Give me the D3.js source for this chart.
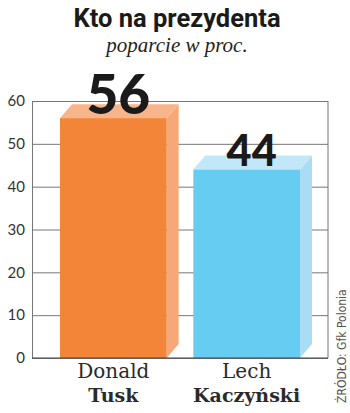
<!DOCTYPE html>
<html>
<head>
<meta charset="utf-8">
<script src="https://cdn.jsdelivr.net/npm/d3@7"></script>
<style>
  body { margin: 0; background: #fff; }
  svg { display: block; }
</style>
</head>
<body>
<figure id="chart" style="margin:0"></figure>
<script>
// data
const firstNames = ["Donald", "Lech"];
const lastNames = ["Tusk", "Kaczyński"];
const support = [56, 44];
const yTicks = [0, 10, 20, 30, 40, 50, 60];

const width = 350, height = 413;
const margin = { top: 101, right: 22, bottom: 55, left: 32 };
const depthX = 12, depthY = 14;
const colors = [
  { front: "#f28538", side: "#f6a878", top: "#f8b58c" },
  { front: "#66ccf2", side: "#a9ddf6", top: "#c2e7f8" }
];

const svg = d3.select("#chart").append("svg")
  .attr("width", width)
  .attr("height", height);

const x = d3.scaleBand()
  .domain(firstNames)
  .range([margin.left, width - margin.right])
  .paddingInner(0.2)
  .paddingOuter(0.21);

const y = d3.scaleLinear()
  .domain([0, 60])
  .range([height - margin.bottom, margin.top]);

// title
svg.append("text")
  .attr("x", 177).attr("y", 27)
  .attr("text-anchor", "middle")
  .style("font-family", "Roboto, sans-serif")
  .style("font-weight", "700")
  .style("font-size", "25.5px")
  .attr("fill", "#1a1a1a")
  .text("Kto na prezydenta");

svg.append("text")
  .attr("x", 177).attr("y", 52)
  .attr("text-anchor", "middle")
  .style("font-family", "'Liberation Serif', serif")
  .style("font-style", "italic")
  .style("font-size", "21px")
  .attr("fill", "#222")
  .text("poparcie w proc.");

// grid
const yAxis = d3.axisLeft(y)
  .tickValues(yTicks)
  .tickSize(-(width - margin.left - margin.right))
  .tickPadding(7);

const gAxis = svg.append("g")
  .attr("transform", `translate(${margin.left},0)`)
  .call(yAxis);
gAxis.select(".domain").attr("stroke", "#777");
gAxis.selectAll(".tick line").attr("stroke", "#777").attr("stroke-width", 1);
gAxis.selectAll(".tick text")
  .attr("fill", "#333")
  .style("font-family", "Lato, sans-serif")
  .style("font-size", "15px");

// right frame line
svg.append("line")
  .attr("x1", width - margin.right).attr("x2", width - margin.right)
  .attr("y1", y(60)).attr("y2", y(0))
  .attr("stroke", "#777");

// bars with a 3D look
const bars = svg.selectAll("g.bar")
  .data(support)
  .enter().append("g")
  .attr("class", "bar");

bars.append("path")
  .attr("fill", (d, i) => colors[i].side)
  .attr("d", (d, i) => {
    const x1 = x(firstNames[i]) + x.bandwidth();
    return `M${x1},${y(d)} L${x1 + depthX},${y(d) - depthY} L${x1 + depthX},${y(0) - depthY} L${x1},${y(0)} Z`;
  });

bars.append("path")
  .attr("fill", (d, i) => colors[i].top)
  .attr("d", (d, i) => {
    const x0 = x(firstNames[i]);
    const x1 = x0 + x.bandwidth();
    return `M${x0},${y(d)} L${x0 + depthX},${y(d) - depthY} L${x1 + depthX},${y(d) - depthY} L${x1},${y(d)} Z`;
  });

bars.append("rect")
  .attr("x", (d, i) => x(firstNames[i]))
  .attr("y", d => y(d))
  .attr("width", x.bandwidth())
  .attr("height", d => y(0) - y(d))
  .attr("fill", (d, i) => colors[i].front);

// baseline
svg.append("line")
  .attr("x1", margin.left).attr("x2", width - margin.right)
  .attr("y1", y(0)).attr("y2", y(0))
  .attr("stroke", "#444").attr("stroke-width", 1.2);

// value labels, size grows with the value
const labelSize = d3.scaleLinear().domain([0, 56]).range([0, 55]);
bars.append("text")
  .attr("x", (d, i) => x(firstNames[i]) + x.bandwidth() / 2 + 5)
  .attr("y", d => y(d) - 4)
  .attr("text-anchor", "middle")
  .style("font-family", "Lato, sans-serif")
  .style("font-weight", "900")
  .style("font-size", d => labelSize(d) + "px")
  .attr("fill", "#1a1a1a")
  .text(d => d);

// category labels
const labels = svg.selectAll("g.cat")
  .data(firstNames)
  .enter().append("g")
  .attr("class", "cat");

labels.append("text")
  .attr("x", d => x(d) + x.bandwidth() / 2)
  .attr("y", 378)
  .attr("text-anchor", "middle")
  .style("font-family", "'DejaVu Serif', serif")
  .style("font-size", "20px")
  .attr("fill", "#2a2a2a")
  .text(d => d);

labels.append("text")
  .attr("x", d => x(d) + x.bandwidth() / 2)
  .attr("y", 402)
  .attr("text-anchor", "middle")
  .style("font-family", "'DejaVu Serif', serif")
  .style("font-weight", "700")
  .style("font-size", "19px")
  .attr("fill", "#2a2a2a")
  .text((d, i) => lastNames[i]);

// source
svg.append("text")
  .attr("transform", "translate(346,403) rotate(-90)")
  .style("font-family", "'Liberation Sans Narrow', 'DejaVu Sans Condensed', sans-serif")
  .style("font-size", "12px")
  .attr("fill", "#555")
  .text("ŹRÓDŁO: Gfk Polonia");
</script>
</body>
</html>
